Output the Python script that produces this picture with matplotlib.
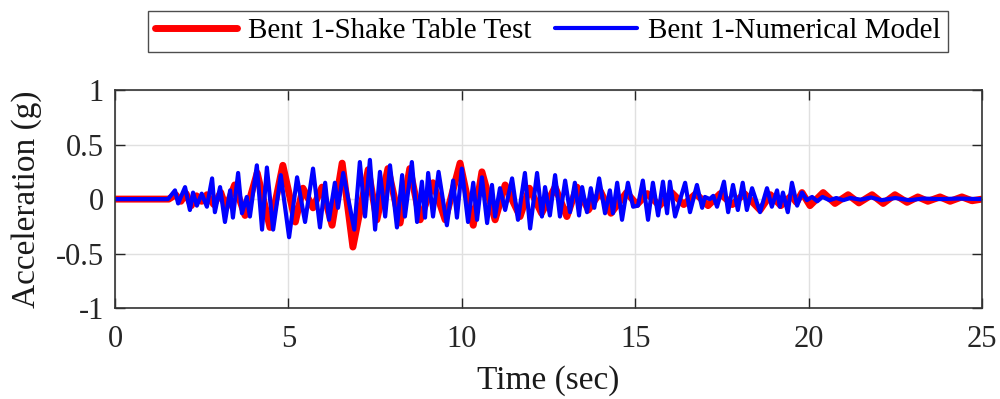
"""Acceleration time history: shake table test vs numerical model (Bent 1)."""

import numpy as np
import matplotlib
matplotlib.use("Agg")
import matplotlib.pyplot as plt

# peaks and troughs (time in s, acceleration in g)
t_test = [0, 1.55, 1.75, 1.9, 2.05, 2.2, 2.35, 2.5, 2.65, 2.85, 3.05, 3.2,
          3.45, 3.75, 4.1, 4.47, 4.84, 5.2, 5.42, 5.71, 5.97, 6.26, 6.55,
          6.86, 7.3, 7.55, 7.87, 8.22, 8.5, 8.8, 9.17, 9.52, 9.95, 10.33,
          10.58, 10.96, 11.25, 11.68, 11.95, 12.3, 12.69, 13.03, 13.32,
          13.65, 14.0, 14.3, 14.75, 15.05, 15.35, 15.7, 16.05, 16.4, 16.75,
          17.1, 17.45, 17.8, 18.15, 18.6, 18.9, 19.2, 19.5, 19.65, 19.81,
          20.04, 20.42, 20.76, 21.14, 21.45, 21.83, 22.15, 22.49, 22.84,
          23.15, 23.44, 23.79, 24.08, 24.42, 24.71, 25]
a_test = [0, 0, 0.04, -0.02, 0.05, -0.06, 0.03, -0.02, 0.04, -0.05, 0.06,
          -0.08, 0.13, -0.15, 0.24, -0.26, 0.31, -0.21, 0.10, -0.08, 0.11,
          -0.24, 0.33, -0.44, 0.27, -0.19, 0.28, -0.22, 0.28, -0.19, 0.15,
          -0.19, 0.33, -0.24, 0.25, -0.19, 0.13, -0.16, 0.10, -0.13, 0.11,
          -0.16, 0.11, -0.10, 0.07, -0.13, 0.06, -0.05, 0.05, -0.06, 0.06,
          -0.05, 0.05, -0.06, 0.05, -0.05, 0.05, -0.10, 0.04, -0.06, 0.03,
          -0.03, 0.06, -0.06, 0.06, -0.04, 0.04, -0.035, 0.04, -0.04, 0.04,
          -0.03, 0.02, -0.02, 0.02, -0.02, 0.02, -0.015, 0]

t_model = [0, 1.53, 1.73, 1.82, 2.02, 2.16, 2.25, 2.36, 2.5, 2.65, 2.8, 2.88,
           3.03, 3.17, 3.32, 3.40, 3.55, 3.66, 3.8, 3.89, 4.09, 4.24, 4.38,
           4.56, 4.78, 5.02, 5.25, 5.48, 5.71, 5.91, 6.06, 6.17, 6.34, 6.43,
           6.58, 6.9, 7.06, 7.21, 7.35, 7.5, 7.64, 7.79, 7.93, 8.13, 8.28,
           8.36, 8.56, 8.71, 8.85, 8.94, 9.03, 9.17, 9.33, 9.57, 9.75, 9.86,
           10.0, 10.18, 10.33, 10.44, 10.58, 10.73, 10.87, 10.96, 11.1,
           11.25, 11.45, 11.62, 11.82, 11.97, 12.17, 12.31, 12.4, 12.54,
           12.69, 12.83, 12.98, 13.12, 13.26, 13.38, 13.47, 13.61, 13.72,
           13.82, 13.96, 14.13, 14.27, 14.36, 14.48, 14.62, 14.79, 14.94,
           15.08, 15.22, 15.37, 15.51, 15.66, 15.8, 15.92, 16.0, 16.15,
           16.44, 16.58, 16.78, 16.93, 17.01, 17.15, 17.25, 17.36, 17.56,
           17.68, 17.82, 17.96, 18.1, 18.22, 18.37, 18.6, 18.8, 18.94, 19.09,
           19.17, 19.26, 19.4, 19.52, 19.67, 19.81, 19.95, 20.1, 20.25, 20.4,
           20.6, 20.8, 21.0, 21.2, 21.5, 21.8, 22.1, 22.5, 22.9, 23.3, 23.8,
           24.3, 25]
a_model = [0, 0, 0.08, -0.04, 0.11, -0.10, 0.06, -0.06, 0.05, -0.07, 0.19,
           -0.12, 0.11, -0.21, 0.08, -0.17, 0.24, -0.13, 0.02, -0.16, 0.31,
           -0.28, 0.29, -0.28, 0.22, -0.35, 0.20, -0.21, 0.28, -0.26, 0.15,
           -0.19, 0.15, -0.08, 0.24, -0.28, 0.34, -0.16, 0.36, -0.28, 0.25,
           -0.16, 0.31, -0.26, 0.22, -0.16, 0.34, -0.21, 0.16, -0.17, 0.24,
           -0.16, 0.25, -0.24, 0.17, -0.17, 0.28, -0.21, 0.15, -0.19, 0.20,
           -0.22, 0.13, -0.16, 0.10, -0.10, 0.19, -0.19, 0.24, -0.27, 0.24,
           -0.16, 0.11, -0.15, 0.22, -0.16, 0.17, -0.12, 0.15, -0.15, 0.11,
           -0.12, 0.10, -0.08, 0.19, -0.13, 0.08, -0.13, 0.15, -0.19, 0.15,
           -0.07, -0.06, 0.17, -0.19, 0.15, -0.15, 0.16, -0.13, 0.16, -0.16,
           0.15, -0.12, 0.13, -0.08, 0.02, 0.0, 0.03, -0.07, 0.16, -0.12,
           0.13, -0.10, 0.15, -0.10, 0.10, -0.12, 0.10, -0.07, 0.08, -0.07,
           0.06, -0.12, 0.15, -0.06, 0.06, -0.01, 0.02, -0.02, 0.02, -0.01,
           0.01, -0.01, 0.01, -0.005, 0.015, -0.01, 0.01, -0.01, 0.005, 0.0,
           0.005, 0]

x_ticks = [0, 5, 10, 15, 20, 25]
y_ticks = [-1, -0.5, 0, 0.5, 1]
y_tick_labels = ["-1", "-0.5", "0", "0.5", "1"]

plt.rcParams["font.family"] = ["Liberation Serif", "DejaVu Serif"]
plt.rcParams["axes.unicode_minus"] = False

fig = plt.figure(figsize=(10, 3.99), dpi=100)
ax = fig.add_axes([0.115, 0.228, 0.867, 0.546])

ax.plot(t_test, a_test, color="#ff0000", lw=5.0, solid_joinstyle="round",
        solid_capstyle="round", label="Bent 1-Shake Table Test")
ax.plot(t_model, a_model, color="#0000ff", lw=3.0, solid_joinstyle="round",
        solid_capstyle="round", label="Bent 1-Numerical Model")

ax.set_xlim(0, 25)
ax.set_ylim(-1, 1)
ax.set_xticks(x_ticks)
ax.set_yticks(y_ticks)
ax.set_yticklabels(y_tick_labels)
ax.grid(True, color="0.88", lw=1.0)
ax.set_axisbelow(True)
ax.tick_params(direction="in", length=7, width=1.0, colors="0.15",
               labelsize=22, top=True, right=True)
ax.tick_params(axis="x", pad=12)
ax.tick_params(axis="y", pad=8)
for sp in ax.spines.values():
    sp.set_color("0.2")
    sp.set_linewidth(1.2)

ax.set_xlabel("Time (sec)", fontsize=24, color="0.1", labelpad=8)
ax.set_ylabel("Acceleration (g)", fontsize=24, color="0.1", labelpad=10)

leg = fig.legend(loc="center", bbox_to_anchor=(0.548, 0.922), ncol=2,
                 fontsize=21, frameon=True, fancybox=False, framealpha=1,
                 edgecolor="0.3", handlelength=2.8, columnspacing=0.8,
                 handletextpad=0.4, borderpad=0.25, borderaxespad=0)
leg.get_frame().set_linewidth(1.0)

fig.savefig("out.png", dpi=100)
